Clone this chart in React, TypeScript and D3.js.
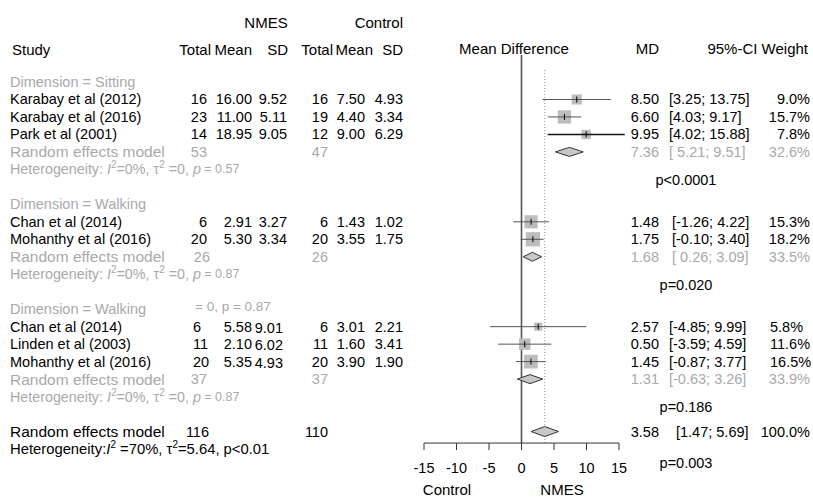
import React from 'react';
import * as d3 from 'd3';

// study level data
const studyGroup = [0, 0, 0, 1, 1, 2, 2, 2];
const studyNames = ['Karabay et al (2012)', 'Karabay et al (2016)', 'Park et al (2001)', 'Chan et al (2014)',
  'Mohanthy et al (2016)', 'Chan et al (2014)', 'Linden et al (2003)', 'Mohanthy et al (2016)'];
const nmesTotal = [16, 23, 14, 6, 20, 6, 11, 20];
const nmesMean = ['16.00', '11.00', '18.95', '2.91', '5.30', '5.58', '2.10', '5.35'];
const nmesSD = ['9.52', '5.11', '9.05', '3.27', '3.34', '9.01', '6.02', '4.93'];
const ctrlTotal = [16, 19, 12, 6, 20, 6, 11, 20];
const ctrlMean = ['7.50', '4.40', '9.00', '1.43', '3.55', '3.01', '1.60', '3.90'];
const ctrlSD = ['4.93', '3.34', '6.29', '1.02', '1.75', '2.21', '3.41', '1.90'];
const md = [8.50, 6.60, 9.95, 1.48, 1.75, 2.57, 0.50, 1.45];
const ciLow = [3.25, 4.03, 4.02, -1.26, -0.10, -4.85, -3.59, -0.87];
const ciHigh = [13.75, 9.17, 15.88, 4.22, 3.40, 9.99, 4.59, 3.77];
const weight = [9.0, 15.7, 7.8, 15.3, 18.2, 5.8, 11.6, 16.5];

// subgroups
const groupLabels = ['Dimension = Sitting', 'Dimension = Walking', 'Dimension = Walking'];
const groupNmes = [53, 26, 37];
const groupCtrl = [47, 26, 37];
const groupMD = [7.36, 1.68, 1.31];
const groupLow = [5.21, 0.26, -0.63];
const groupHigh = [9.51, 3.09, 3.26];
const groupWeight = [32.6, 33.5, 33.9];
const groupHetP = ['0.57', '0.87', '0.87'];
const groupPValue = ['p<0.0001', 'p=0.020', 'p=0.186'];

// overall
const overallNmes = 116;
const overallCtrl = 110;
const overallMD = 3.58;
const overallLow = 1.47;
const overallHigh = 5.69;
const overallWeight = 100.0;
const overallP = 'p=0.003';

const xTicks = [-15, -10, -5, 0, 5, 10, 15];
const colHeaders = ['Total', 'Mean', 'SD', 'Total', 'Mean', 'SD'];

const GRAY = '#a9a9a9';
const FONT = '"Liberation Sans", Arial, Helvetica, sans-serif';

const fmt = (v: number) => v.toFixed(2);
const ci = (lo: number, hi: number, pad: boolean) =>
  `[${pad && lo >= 0 ? ' ' : ''}${fmt(lo)}; ${fmt(hi)}]`;

export default function App() {
  const width = 813;
  const height = 498;

  const x = d3.scaleLinear().domain([-15, 15]).range([424, 619]);
  const y = d3.scaleLinear().domain([0, 21]).range([82, 449]);
  const sq = d3.scaleSqrt().domain([0, 20]).range([0, 15]);

  // row index of each block
  const starts: number[] = [];
  let s = 0;
  groupLabels.forEach((_, g) => {
    starts.push(s);
    s += studyGroup.filter(d => d === g).length + 4;
  });
  const overallRow = s;
  const studyRow = studyNames.map((_, i) => {
    const g = studyGroup[i];
    const before = studyGroup.slice(0, i).filter(d => d === g).length;
    return starts[g] + 1 + before;
  });
  const nIn = (g: number) => studyGroup.filter(d => d === g).length;

  const axisY = y(20.66);
  const base = { fontFamily: FONT, fontSize: 14.5, dominantBaseline: 'central' as const };
  const headX = [211, 252, 288, 333, 373, 403];

  const diamond = (m: number, lo: number, hi: number, cy: number, h: number) =>
    `M${x(lo)},${cy} L${x(m)},${cy - h} L${x(hi)},${cy} L${x(m)},${cy + h} Z`;

  const het = (p: string, cy: number, key: string) => (
    <text key={key} x={10} y={cy} fill={GRAY} style={{ ...base, fontSize: 14.3 }}>
      Heterogeneity: <tspan fontStyle="italic">I</tspan>
      <tspan fontSize={10} dy={-5}>2</tspan>
      <tspan dy={5}>=0%, τ</tspan>
      <tspan fontSize={10} dy={-5}>2</tspan>
      <tspan dy={5}> =0, </tspan>
      <tspan fontStyle="italic">p</tspan>
      <tspan fontSize={12.5}> = {p}</tspan>
    </text>
  );

  return (
    <svg width={width} height={height} style={{ position: 'absolute', left: 0, top: 0, background: '#fff' }}>
      {/* headers */}
      <g style={{ fontFamily: FONT, fontSize: 15 }} fill="#000">
        <text x={266} y={22} textAnchor="middle" dominantBaseline="central">NMES</text>
        <text x={403} y={22} textAnchor="end" dominantBaseline="central">Control</text>
        <text x={12} y={49} dominantBaseline="central">Study</text>
        {colHeaders.map((t, i) => (
          <text key={i} x={headX[i]} y={49} textAnchor="end" dominantBaseline="central">{t}</text>
        ))}
        <text x={514} y={48} textAnchor="middle" dominantBaseline="central">Mean Difference</text>
        <text x={659} y={48} textAnchor="end" dominantBaseline="central">MD</text>
        <text x={808} y={48} textAnchor="end" dominantBaseline="central">95%-CI Weight</text>
      </g>

      {/* reference lines */}
      <line x1={x(0)} x2={x(0)} y1={55} y2={axisY} stroke="#555" strokeWidth={1.6} />
      <line x1={x(overallMD)} x2={x(overallMD)} y1={70} y2={axisY} stroke="#777" strokeWidth={0.8} strokeDasharray="1,2" />

      {/* subgroup blocks */}
      {groupLabels.map((lab, g) => {
        const r0 = starts[g];
        const remRow = r0 + nIn(g) + 1;
        const hetRow = remRow + 1;
        return (
          <g key={'g' + g}>
            <text x={10} y={y(r0)} fill={GRAY} style={base}>{lab}</text>
            {g === 2 && <text x={195} y={y(r0) - 3} fill={GRAY} style={{ ...base, fontSize: 13.5 }}>= 0, p = 0.87</text>}
            <text x={10} y={y(remRow)} fill={GRAY} style={{ ...base, fontSize: 15.5 }}>Random effects model</text>
            <text x={g === 1 ? 210 : 207} y={y(remRow)} textAnchor="end" fill={GRAY} style={base}>{groupNmes[g]}</text>
            <text x={328} y={y(remRow)} textAnchor="end" fill={GRAY} style={base}>{groupCtrl[g]}</text>
            {het(groupHetP[g], y(hetRow), 'h' + g)}
            <path d={diamond(groupMD[g], groupLow[g], groupHigh[g], y(remRow), 4.5)} fill="#c8c8c8" stroke="#333" strokeWidth={1} />
            <text x={659} y={y(remRow)} textAnchor="end" fill={GRAY} style={base}>{fmt(groupMD[g])}</text>
            <text x={g === 1 ? 672 : 669} y={y(remRow)} fill={GRAY} style={{ ...base, whiteSpace: 'pre' }}>{ci(groupLow[g], groupHigh[g], true)}</text>
            <text x={810} y={y(remRow)} textAnchor="end" fill={GRAY} style={base}>{groupWeight[g].toFixed(1)}%</text>
            <text x={686} y={y(hetRow + 0.6)} textAnchor="middle" fill="#000" style={base}>{groupPValue[g]}</text>
          </g>
        );
      })}

      {/* studies */}
      {studyNames.map((name, i) => {
        const cy = y(studyRow[i]);
        const g = studyGroup[i];
        const side = sq(weight[i]);
        return (
          <g key={'s' + i}>
            <text x={10} y={cy} style={base}>{name}</text>
            <text x={g === 2 ? 193 : 207} y={cy} textAnchor={g === 2 ? 'start' : 'end'} style={base}>{nmesTotal[i]}</text>
            <text x={252} y={cy} textAnchor="end" style={base}>{nmesMean[i]}</text>
            <text x={g === 2 ? 283 : 287} y={g === 2 ? cy + 1 : cy} textAnchor="end" style={base}>{nmesSD[i]}</text>
            <text x={328} y={cy} textAnchor="end" style={base}>{ctrlTotal[i]}</text>
            <text x={365} y={cy} textAnchor="end" style={base}>{ctrlMean[i]}</text>
            <text x={403} y={cy} textAnchor="end" style={base}>{ctrlSD[i]}</text>
            <rect x={x(md[i]) - side / 2} y={cy - side / 2} width={side} height={side} fill="#bdbdbd" />
            <line x1={x(ciLow[i])} x2={x(ciHigh[i])} y1={cy} y2={cy}
              stroke={ciHigh[i] > 15 ? '#111' : '#555'} strokeWidth={ciHigh[i] > 15 ? 1.4 : 1} />
            <line x1={x(md[i])} x2={x(md[i])} y1={cy - 3} y2={cy + 3} stroke="#000" strokeWidth={1} />
            <text x={659} y={cy} textAnchor="end" style={base}>{fmt(md[i])}</text>
            <text x={g === 1 ? 672 : 669} y={cy} style={base}>{ci(ciLow[i], ciHigh[i], false)}</text>
            {g === 2
              ? <text x={770} y={cy} style={base}>{weight[i].toFixed(1)}%</text>
              : <text x={810} y={cy} textAnchor="end" style={base}>{weight[i].toFixed(1)}%</text>}
          </g>
        );
      })}

      {/* overall */}
      <g>
        <text x={10} y={y(overallRow)} style={{ ...base, fontSize: 15.5 }}>Random effects model</text>
        <text x={209} y={y(overallRow)} textAnchor="end" style={base}>{overallNmes}</text>
        <text x={328} y={y(overallRow)} textAnchor="end" style={base}>{overallCtrl}</text>
        <path d={diamond(overallMD, overallLow, overallHigh, y(overallRow), 5)} fill="#c8c8c8" stroke="#333" strokeWidth={1} />
        <text x={659} y={y(overallRow)} textAnchor="end" style={base}>{fmt(overallMD)}</text>
        <text x={676} y={y(overallRow)} style={base}>{ci(overallLow, overallHigh, false)}</text>
        <text x={810} y={y(overallRow)} textAnchor="end" style={base}>{overallWeight.toFixed(1)}%</text>
        <text x={10} y={y(overallRow + 1)} style={{ ...base, fontSize: 14.8 }}>
          Heterogeneity:<tspan fontStyle="italic">I</tspan>
          <tspan fontSize={10} dy={-5}>2</tspan>
          <tspan dy={5}> =70%, τ</tspan>
          <tspan fontSize={10} dy={-5}>2</tspan>
          <tspan dy={5}>=5.64, p&lt;0.01</tspan>
        </text>
        <text x={686} y={y(21.8)} textAnchor="middle" style={base}>{overallP}</text>
      </g>

      {/* axis */}
      <g>
        <line x1={x(-15)} x2={x(15)} y1={axisY} y2={axisY} stroke="#333" strokeWidth={1} />
        {xTicks.map(t => (
          <g key={t}>
            <line x1={x(t)} x2={x(t)} y1={axisY} y2={axisY + 7} stroke="#333" strokeWidth={1} />
            <text x={x(t)} y={468} textAnchor="middle" style={base}>{t}</text>
          </g>
        ))}
        <text x={447} y={489} textAnchor="middle" style={{ ...base, fontSize: 15 }}>Control</text>
        <text x={562} y={489} textAnchor="middle" style={{ ...base, fontSize: 15 }}>NMES</text>
      </g>
    </svg>
  );
}
